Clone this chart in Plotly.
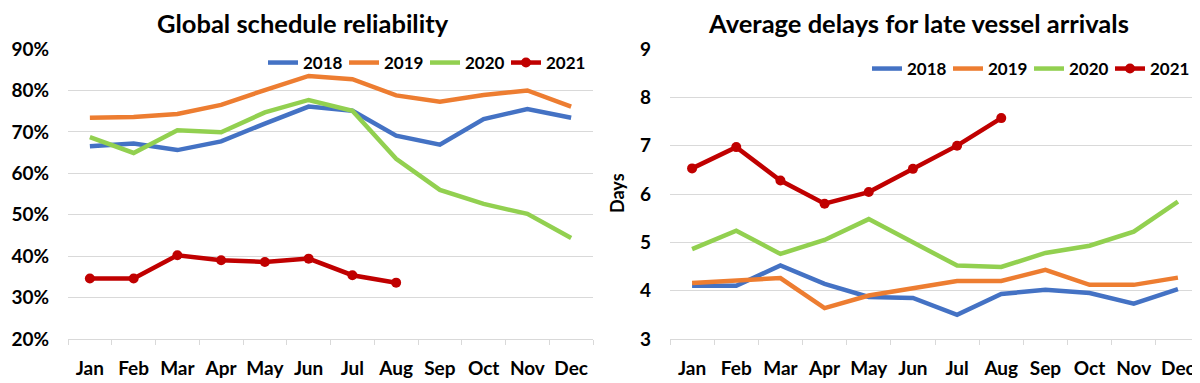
import plotly.graph_objects as go

months = ["Jan", "Feb", "Mar", "Apr", "May", "Jun", "Jul", "Aug", "Sep", "Oct", "Nov", "Dec"]
years = ["2018", "2019", "2020", "2021"]
colors = ["#4472C4", "#ED7D31", "#92D050", "#C00000"]

# Global schedule reliability (%)
rel_2018 = [66.5, 67.2, 65.6, 67.7, 72.0, 76.1, 75.1, 69.1, 66.9, 73.1, 75.5, 73.4]
rel_2019 = [73.4, 73.6, 74.3, 76.5, 80.1, 83.5, 82.7, 78.8, 77.3, 78.9, 80.0, 76.1]
rel_2020 = [68.7, 64.9, 70.4, 69.9, 74.7, 77.7, 75.1, 63.5, 56.0, 52.6, 50.2, 44.4]
rel_2021 = [34.6, 34.6, 40.2, 39.0, 38.6, 39.4, 35.4, 33.6]

# Average delays for late vessel arrivals (days)
del_2018 = [4.10, 4.10, 4.52, 4.14, 3.87, 3.85, 3.50, 3.93, 4.02, 3.95, 3.73, 4.03]
del_2019 = [4.16, 4.22, 4.26, 3.64, 3.90, 4.05, 4.20, 4.20, 4.43, 4.12, 4.12, 4.27]
del_2020 = [4.86, 5.24, 4.76, 5.05, 5.48, 5.00, 4.52, 4.49, 4.78, 4.93, 5.22, 5.84]
del_2021 = [6.53, 6.97, 6.28, 5.80, 6.04, 6.52, 7.00, 7.57]

left_series = [rel_2018, rel_2019, rel_2020, rel_2021]
right_series = [del_2018, del_2019, del_2020, del_2021]

FONT = "Lato, 'Open Sans', sans-serif"

fig = go.Figure()

for i, (yr, vals) in enumerate(zip(years, left_series)):
    is21 = yr == "2021"
    fig.add_trace(go.Scatter(
        x=months[:len(vals)], y=vals, name=yr,
        mode="lines+markers" if is21 else "lines",
        line=dict(color=colors[i], width=4.5),
        marker=dict(size=10, color=colors[i]),
        xaxis="x", yaxis="y", legend="legend",
    ))

for i, (yr, vals) in enumerate(zip(years, right_series)):
    is21 = yr == "2021"
    fig.add_trace(go.Scatter(
        x=months[:len(vals)], y=vals, name=yr,
        mode="lines+markers" if is21 else "lines",
        line=dict(color=colors[i], width=4.5),
        marker=dict(size=10, color=colors[i]),
        xaxis="x2", yaxis="y2", legend="legend2",
    ))

# page body has an 8px margin; figure is sized so it fits the 1200x383 view
OFF = 8
W = 1200 - OFF
H = 383 - OFF


def px(x):
    return (x - OFF) / W


def py(y):
    return (383 - y) / H


ytop = py(49)
ybot = py(339)

xax_common = dict(
    type="category", categoryorder="array", categoryarray=months,
    range=[-0.5, len(months) - 0.5],
    showgrid=False, showline=True, linecolor="#D9D9D9", linewidth=1,
    ticks="outside", tickson="boundaries", ticklen=5, tickcolor="#D9D9D9",
    tickangle=0, automargin=False,
    tickfont=dict(family=FONT, size=19, color="#000000", weight="bold"),
    ticklabelstandoff=12, fixedrange=True,
)
yax_common = dict(
    showgrid=True, gridcolor="#D9D9D9", gridwidth=1, zeroline=False,
    showline=False, ticks="", automargin=False,
    tickfont=dict(family=FONT, size=19, color="#000000", weight="bold"),
    ticklabelstandoff=18, fixedrange=True,
)

fig.update_layout(
    width=W, height=H,
    margin=dict(l=0, r=0, t=0, b=0, autoexpand=False),
    paper_bgcolor="white", plot_bgcolor="white",
    showlegend=True,
    xaxis=dict(domain=[px(68), px(593)], anchor="y", **xax_common),
    yaxis=dict(domain=[ybot, ytop], anchor="x", range=[20, 90], dtick=10,
               ticksuffix="%", **yax_common),
    xaxis2=dict(domain=[px(670), 1.0], anchor="y2", **xax_common),
    yaxis2=dict(domain=[ybot, ytop], anchor="x2", range=[3, 9], dtick=1,
                **yax_common),
    legend=dict(orientation="h", x=px(263), xanchor="left", y=py(63),
                yanchor="middle", bgcolor="rgba(0,0,0,0)", entrywidth=36,
                font=dict(family=FONT, size=17, color="#000000", weight="bold"),
                tracegroupgap=0),
    legend2=dict(orientation="h", x=px(867), xanchor="left", y=py(69),
                 yanchor="middle", bgcolor="rgba(0,0,0,0)", entrywidth=36,
                 font=dict(family=FONT, size=17, color="#000000", weight="bold"),
                 tracegroupgap=0),
    annotations=[
        dict(text="Global schedule reliability", x=px(303), y=py(23),
             xref="paper", yref="paper", xanchor="center", yanchor="middle",
             showarrow=False,
             font=dict(family=FONT, size=25.5, color="#000000", weight="bold")),
        dict(text="Average delays for late vessel arrivals", x=px(918), y=py(23),
             xref="paper", yref="paper", xanchor="center", yanchor="middle",
             showarrow=False,
             font=dict(family=FONT, size=25.5, color="#000000", weight="bold")),
        dict(text="Days", x=px(617), y=py(193), textangle=-90,
             xref="paper", yref="paper", xanchor="center", yanchor="middle",
             showarrow=False,
             font=dict(family=FONT, size=18, color="#000000", weight="bold")),
    ],
)

fig.write_html("out.html")
